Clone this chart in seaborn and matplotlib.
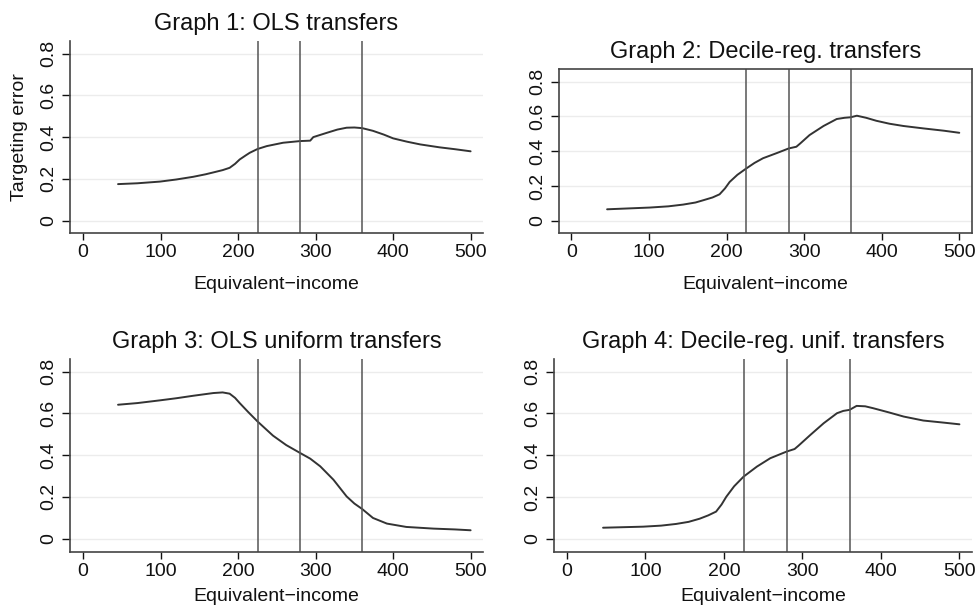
import matplotlib
matplotlib.use('Agg')
import matplotlib.pyplot as plt
import pandas as pd
import seaborn as sns

sns.set_style('white')
plt.rcParams['font.family'] = ['Liberation Sans', 'DejaVu Sans']

# thresholds (vertical reference lines)
cutoffs = [225, 280, 360]

# Graph 1: OLS transfers
g1_x = [45, 70, 99, 120, 142, 158, 168, 180, 189, 196, 202, 210, 215, 225, 237, 258, 280, 293, 297, 314, 328,
        340, 350, 360, 374, 388, 400, 418, 435, 460, 480, 500]
g1_y = [0.175, 0.179, 0.187, 0.197, 0.21, 0.222, 0.231, 0.242, 0.253, 0.272, 0.293, 0.313, 0.325, 0.343, 0.357,
        0.373, 0.381, 0.383, 0.40, 0.42, 0.436, 0.445, 0.446, 0.443, 0.43, 0.412, 0.394, 0.378, 0.365, 0.351,
        0.342, 0.332]

# Graph 2: Decile-reg. transfers
g2_x = [46, 101, 125, 144, 160, 170, 182, 191, 198, 204, 214, 225, 236, 247, 265, 280, 290, 295, 307, 325, 342,
        352, 360, 368, 380, 393, 410, 428, 454, 480, 500]
g2_y = [0.067, 0.077, 0.084, 0.094, 0.106, 0.119, 0.135, 0.153, 0.187, 0.224, 0.265, 0.30, 0.333, 0.36, 0.39,
        0.416, 0.426, 0.445, 0.493, 0.545, 0.585, 0.592, 0.595, 0.604, 0.592, 0.575, 0.558, 0.545, 0.531, 0.518,
        0.506]

# Graph 3: OLS uniform transfers
g3_x = [45, 70, 99, 120, 142, 168, 180, 189, 196, 202, 213, 225, 245, 262, 280, 293, 306, 323, 340, 350, 360,
        374, 392, 417, 452, 480, 500]
g3_y = [0.641, 0.649, 0.662, 0.672, 0.684, 0.697, 0.70, 0.694, 0.674, 0.649, 0.606, 0.561, 0.493, 0.448, 0.41,
        0.383, 0.346, 0.282, 0.202, 0.168, 0.142, 0.099, 0.072, 0.056, 0.048, 0.044, 0.040]

# Graph 4: Decile-reg. unif. transfers
g4_x = [46, 97, 120, 139, 155, 169, 180, 190, 197, 203, 213, 225, 242, 259, 280, 290, 295, 310, 327, 344, 352,
        360, 369, 380, 390, 410, 429, 454, 480, 500]
g4_y = [0.054, 0.059, 0.064, 0.072, 0.082, 0.097, 0.113, 0.131, 0.165, 0.202, 0.252, 0.298, 0.346, 0.386, 0.418,
        0.43, 0.446, 0.497, 0.553, 0.601, 0.612, 0.617, 0.636, 0.634, 0.625, 0.605, 0.585, 0.566, 0.556, 0.548]

titles = ['Graph 1: OLS transfers', 'Graph 2: Decile-reg. transfers',
          'Graph 3: OLS uniform transfers', 'Graph 4: Decile-reg. unif. transfers']
x_ticks = [0, 100, 200, 300, 400, 500]
y_ticks = [0, 0.2, 0.4, 0.6, 0.8]
y_ticklabels = ['0', '0.2', '0.4', '0.6', '0.8']

W, H = 980, 608
fig = plt.figure(figsize=(W / 100, H / 100), dpi=100)

# panel boxes in pixels: left, right, top, bottom, xlim, ylim, full frame, xlabel pad
panels = [
    (70, 483, 41, 233, (-17, 516), (-0.059, 0.86), False, 11),
    (559, 972, 69, 233, (-16, 516.4), (-0.069, 0.872), True, 11),
    (70, 483, 359, 552, (-17, 516), (-0.064, 0.86), False, 6),
    (554, 972, 359, 552, (-16.5, 516), (-0.062, 0.86), False, 6),
]
series = [(g1_x, g1_y), (g2_x, g2_y), (g3_x, g3_y), (g4_x, g4_y)]

line_col = '#333333'
axes_col = '#444444'

for i, ((l, r, t, b, xl, yl, frame, lpad), (xs, ys)) in enumerate(zip(panels, series)):
    ax = fig.add_axes([l / W, (H - b) / H, (r - l) / W, (b - t) / H])
    df = pd.DataFrame({'income': xs, 'error': ys})
    sns.lineplot(data=df, x='income', y='error', ax=ax, color=line_col, linewidth=1.4)
    for c in cutoffs:
        ax.axvline(c, color='#555555', linewidth=1.1)
    ax.set_xlim(*xl)
    ax.set_ylim(*yl)
    ax.set_xticks(x_ticks)
    ax.set_yticks(y_ticks)
    ax.set_yticklabels(y_ticklabels, rotation=90, va='center')
    ax.yaxis.grid(True, color='#ececec', linewidth=1.0)
    ax.set_axisbelow(True)
    ax.tick_params(axis='both', labelsize=14, colors='#111111', length=5, width=1.0,
                   direction='out', left=True, bottom=True, pad=3)
    ax.tick_params(axis='y', length=6)
    for side, sp in ax.spines.items():
        sp.set_color(axes_col)
        sp.set_linewidth(1.2)
        if side in ('top', 'right') and not frame:
            sp.set_visible(False)
    ax.set_title(titles[i], fontsize=17, pad=8, color='#111111')
    ax.set_xlabel('Equivalent\u2212income', fontsize=14, labelpad=lpad, color='#111111')
    if i == 0:
        ax.set_ylabel('Targeting error', fontsize=14, labelpad=9, color='#111111')
    else:
        ax.set_ylabel('')

fig.savefig('out.png', dpi=100)
